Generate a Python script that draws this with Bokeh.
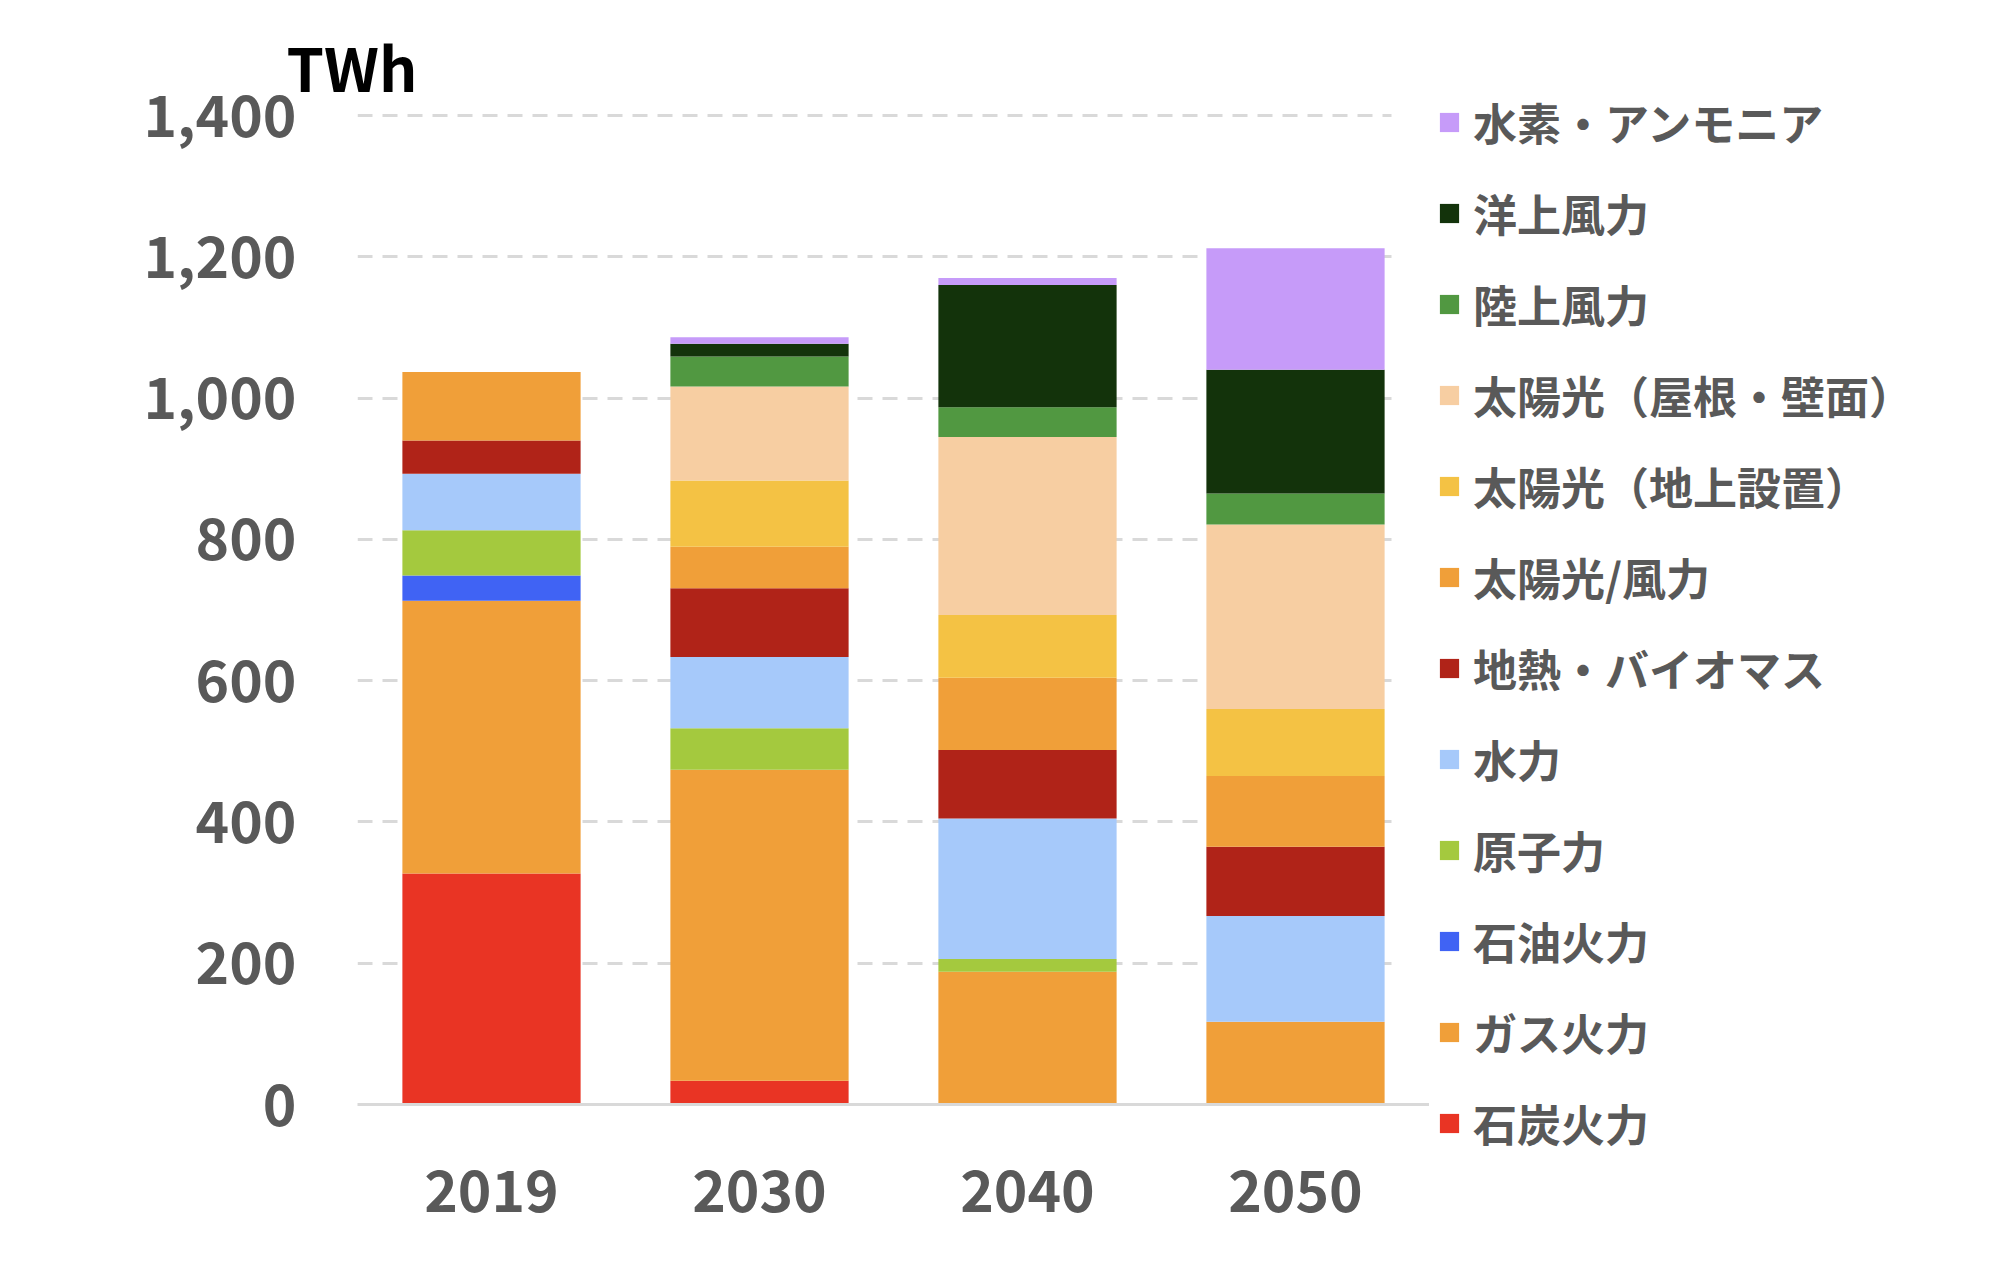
from bokeh.plotting import figure
from bokeh.layouts import row
from bokeh.models import (ColumnDataSource, FactorRange, Range1d, Legend, LegendItem,
                          NumeralTickFormatter, FixedTicker, Grid)
from bokeh.embed import file_html
from bokeh.resources import INLINE

years = ["2019", "2030", "2040", "2050"]

coal = [327, 33.5, 0, 0]
gas = [386, 440.5, 188, 117]
oil = [36, 0, 0, 0]
nuclear = [64, 58.5, 18, 0]
hydro = [80, 101, 199, 150]
geo_bio = [47, 97.5, 97, 98]
solar_wind = [97, 58.5, 102, 100]
solar_ground = [0, 94, 89, 95]
solar_roof = [0, 133, 252, 261]
wind_onshore = [0, 42.5, 42, 44]
wind_offshore = [0, 18, 173, 175]
hydrogen = [0, 9, 10, 172]

y_ticks = [0, 200, 400, 600, 800, 1000, 1200, 1400]

series_keys = ["coal", "gas", "oil", "nuclear", "hydro", "geo_bio", "solar_wind",
               "solar_ground", "solar_roof", "wind_onshore", "wind_offshore", "hydrogen"]
series_labels = ["石炭火力", "ガス火力", "石油火力", "原子力", "水力", "地熱・バイオマス",
                 "太陽光/風力", "太陽光（地上設置）", "太陽光（屋根・壁面）", "陸上風力",
                 "洋上風力", "水素・アンモニア"]
series_colors = ["#E93424", "#F09F39", "#4063F4", "#A4C93E", "#A6C9FA", "#B02318",
                 "#F09F39", "#F4C244", "#F7CEA2", "#519841", "#13330B", "#C69BF9"]

source = ColumnDataSource(data=dict(
    years=years, coal=coal, gas=gas, oil=oil, nuclear=nuclear, hydro=hydro,
    geo_bio=geo_bio, solar_wind=solar_wind, solar_ground=solar_ground,
    solar_roof=solar_roof, wind_onshore=wind_onshore, wind_offshore=wind_offshore,
    hydrogen=hydrogen))

FONT = "Noto Sans CJK JP"
TXT = "#595959"

# ---------------- main chart ----------------
p = figure(x_range=FactorRange(*years), y_range=Range1d(0, 1410),
           width=1429, height=1250, output_backend="svg", toolbar_location=None,
           min_border_left=357, min_border_right=0, min_border_top=108,
           min_border_bottom=146)
p.outline_line_color = None
p.background_fill_color = "white"

p.vbar_stack(series_keys, x="years", width=0.665, source=source,
             color=series_colors, line_color=None)

p.yaxis.ticker = FixedTicker(ticks=y_ticks)
p.yaxis.formatter = NumeralTickFormatter(format="0,0")
p.yaxis.axis_line_color = None
p.yaxis.major_tick_line_color = None
p.yaxis.minor_tick_line_color = None
p.yaxis.major_label_standoff = 55
p.yaxis.major_label_text_font = FONT
p.yaxis.major_label_text_font_style = "bold"
p.yaxis.major_label_text_font_size = "57px"
p.yaxis.major_label_text_color = TXT

p.xaxis.axis_line_color = "#D9D9D9"
p.xaxis.axis_line_width = 3
p.xaxis.major_tick_line_color = None
p.xaxis.minor_tick_line_color = None
p.xaxis.major_label_standoff = 59
p.xaxis.major_label_text_font = FONT
p.xaxis.major_label_text_font_style = "bold"
p.xaxis.major_label_text_font_size = "57px"
p.xaxis.major_label_text_color = TXT

p.xgrid.grid_line_color = None
p.ygrid.grid_line_color = "#D9D9D9"
p.ygrid.grid_line_width = 3
p.ygrid.grid_line_dash = "15 10"
if "cross_bounds" in Grid.properties():
    p.ygrid.cross_bounds = (0, 3.86)

# unit label
p.title.text = "TWh"
p.title.align = "left"
p.title.offset = -71
p.title.standoff = 0
p.title.text_font = FONT
p.title.text_font_style = "bold"
p.title.text_font_size = "60px"
p.title.text_color = "black"

# ---------------- legend panel ----------------
lg = figure(x_range=FactorRange(*years), y_range=Range1d(0, 1410),
            width=531, height=1250, output_backend="svg", toolbar_location=None,
            x_axis_location=None, y_axis_location=None,
            min_border_left=0, min_border_right=0, min_border_top=0,
            min_border_bottom=0)
lg.outline_line_color = None
lg.grid.visible = False
legend_renderers = lg.vbar_stack(series_keys, x="years", width=0.665, source=source,
                                 color=series_colors, line_color=None)
for r in legend_renderers:
    r.visible = False

items = [LegendItem(label=lab, renderers=[r])
         for lab, r in zip(series_labels, legend_renderers)]
items = items[::-1]
legend = Legend(items=items, location=(8, -51), orientation="vertical",
                glyph_width=24, glyph_height=24, label_standoff=12,
                label_text_font=FONT, label_text_font_style="bold",
                label_text_font_size="44px", label_text_color=TXT,
                label_height=64, spacing=27, padding=0, margin=0,
                border_line_color=None, background_fill_alpha=0,
                inactive_fill_alpha=0)
lg.add_layout(legend, "left")

layout = row(p, lg)
open("out.html", "w").write(file_html(layout, INLINE))
